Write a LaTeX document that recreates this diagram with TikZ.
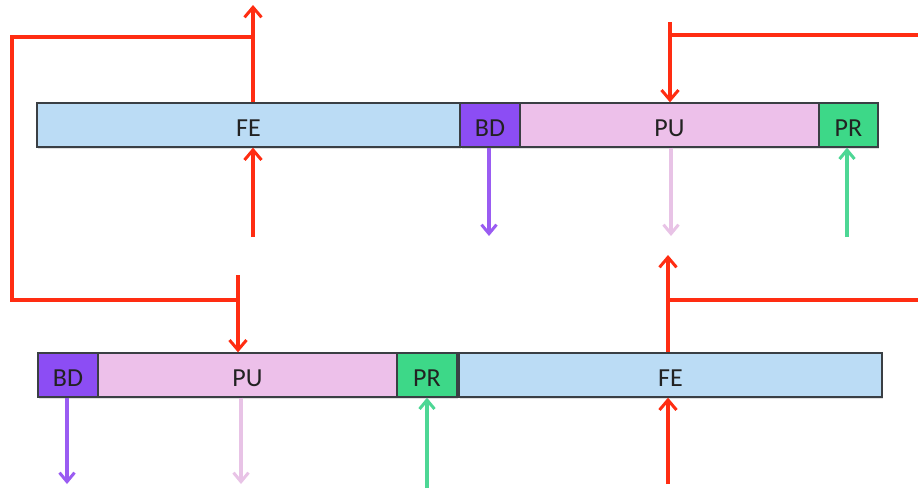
\documentclass[tikz,border=0pt]{standalone}
\usepackage{fontspec}
\setmainfont{Carlito}
\usetikzlibrary{arrows.meta,shadows}
\definecolor{feFill}{HTML}{BBDCF5}
\definecolor{bdFill}{HTML}{8C4DF4}
\definecolor{puFill}{HTML}{EDC0EA}
\definecolor{prFill}{HTML}{3DD888}
\definecolor{wire}{HTML}{FF2D12}
\definecolor{bdwire}{HTML}{9A5CF2}
\definecolor{puwire}{HTML}{E8C3E6}
\definecolor{prwire}{HTML}{4DD795}
\definecolor{segEdge}{HTML}{3A3F44}
\definecolor{segText}{HTML}{222222}
\tikzset{
  seg/.style={draw=segEdge, line width=1.3pt, minimum height=44pt, inner sep=0pt,
    font=\fontsize{26}{26}\selectfont, text=segText, text height=23pt, text depth=0pt,
    drop shadow={opacity=0.25, shadow xshift=1pt, shadow yshift=-1.5pt}},
  wireline/.style={draw=#1, line width=3.2pt},
  wiretip/.style={-{Straight Barb[length=10pt, width=17pt, line width=3pt]}},
  sigtip/.style={-{Straight Barb[length=9pt, width=15pt, line width=3pt]}},
}
\begin{document}
\begin{tikzpicture}[x=1pt, y=-1pt]
  \useasboundingbox (0,0) rectangle (918,488);

  % upper register
  \node[seg, fill=feFill, minimum width=423pt] (fe1) at (248.5,125) {FE};
  \node[seg, fill=bdFill, minimum width=59pt]  (bd1) at (490,125) {BD};
  \node[seg, fill=puFill, minimum width=299pt] (pu1) at (669.5,125) {PU};
  \node[seg, fill=prFill, minimum width=59pt]  (pr1) at (848.5,125) {PR};

  % lower register
  \node[seg, fill=bdFill, minimum width=60pt]  (bd2) at (68,375) {BD};
  \node[seg, fill=puFill, minimum width=299pt] (pu2) at (247.5,375) {PU};
  \node[seg, fill=prFill, minimum width=60pt]  (pr2) at (427,375) {PR};
  \node[seg, fill=feFill, minimum width=423pt] (fe2) at (670.5,375) {FE};

  % free ends and bends of the wiring
  \coordinate (feOutTop) at (253,5);
  \coordinate (feTap)    at (253,37);
  \coordinate (loopA)    at (12,37);
  \coordinate (loopB)    at (12,300);
  \coordinate (puInLow)  at (238,275);
  \coordinate (puJoinLow) at (238,300);
  \coordinate (puInTop)  at (670,22);
  \coordinate (puJoinTop) at (670,35);
  \coordinate (rightTop) at (918,35);
  \coordinate (feOutLow) at (668,255);
  \coordinate (feTapLow) at (668,300);
  \coordinate (rightLow) at (918,300);

  \coordinate (feInTop)  at (253,237);
  \coordinate (bdOutTop) at (489,236);
  \coordinate (puOutTop) at (671,236);
  \coordinate (prInTop)  at (847,237);
  \coordinate (bdOutLow) at (67,484);
  \coordinate (puOutLow) at (241,484);
  \coordinate (prInLow)  at (427,488);
  \coordinate (feInLow)  at (668,484);

  % red feedback wiring
  \draw[wireline=wire, wiretip] (fe1.north -| feOutTop) -- (feOutTop);
  \draw[wireline=wire] (feTap) -- (loopA) -- (loopB) -- (puJoinLow);
  \draw[wireline=wire, wiretip] (puInLow) -- (pu2.north -| puInLow);
  \draw[wireline=wire, wiretip] (puInTop) -- (pu1.north -| puInTop);
  \draw[wireline=wire] (puJoinTop) -- (rightTop);
  \draw[wireline=wire, wiretip] (fe2.north -| feOutLow) -- (feOutLow);
  \draw[wireline=wire] (feTapLow) -- (rightLow);

  % inputs and outputs below the registers
  \draw[wireline=wire, wiretip] (feInTop) -- (fe1.south -| feInTop);
  \draw[wireline=bdwire, sigtip] (bd1.south -| bdOutTop) -- (bdOutTop);
  \draw[wireline=puwire, sigtip] (pu1.south -| puOutTop) -- (puOutTop);
  \draw[wireline=prwire, sigtip] (prInTop) -- (pr1.south -| prInTop);

  \draw[wireline=bdwire, sigtip] (bd2.south -| bdOutLow) -- (bdOutLow);
  \draw[wireline=puwire, sigtip] (pu2.south -| puOutLow) -- (puOutLow);
  \draw[wireline=prwire, sigtip] (prInLow) -- (pr2.south -| prInLow);
  \draw[wireline=wire, wiretip] (feInLow) -- (fe2.south -| feInLow);
\end{tikzpicture}
\end{document}
